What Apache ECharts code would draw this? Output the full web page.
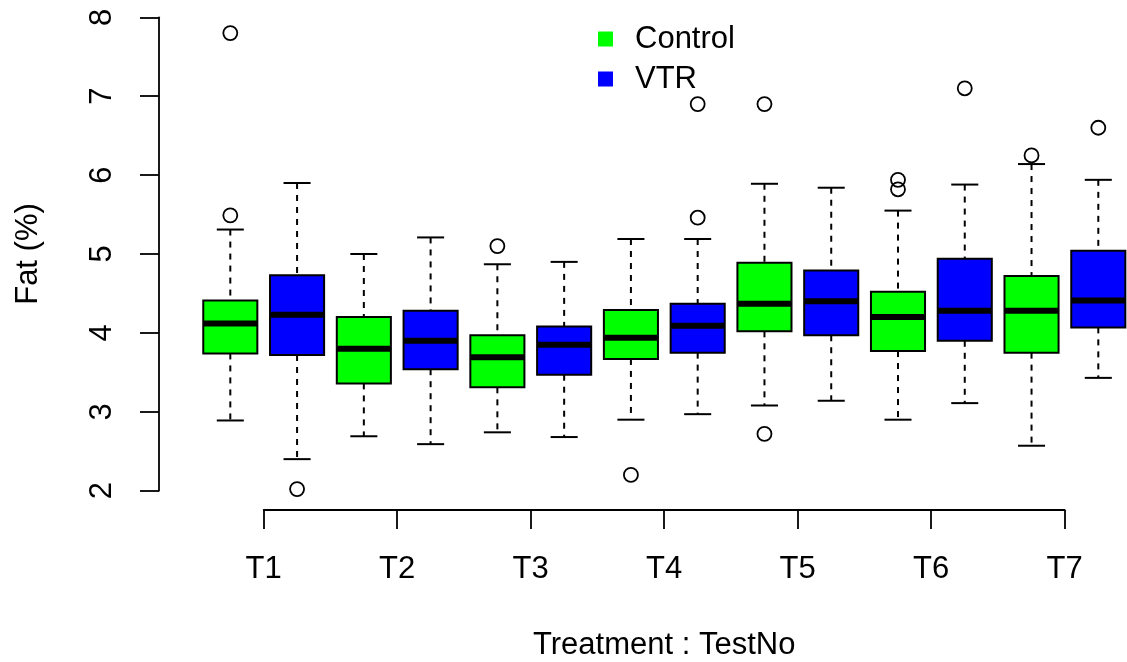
<!DOCTYPE html>
<html>
<head>
    <meta charset="utf-8">
    <title>Fat (%) by Treatment : TestNo</title>
    <script src="https://cdn.jsdelivr.net/npm/echarts/dist/echarts.min.js"></script>
    <style>
        body { margin: 0; background: #fff; }
        #chart1 { width: 1127px; height: 662px; }
    </style>
</head>
<body>
<div id="chart1"></div>

<script type="text/javascript">
    // test numbers on the x axis
    var categories = ['T1', 'T2', 'T3', 'T4', 'T5', 'T6', 'T7'];

    // one row per test: [lower whisker, Q1, median, Q3, upper whisker]
    var controlStats = [
        [2.89, 3.74, 4.12, 4.41, 5.31],
        [2.69, 3.36, 3.80, 4.20, 5.00],
        [2.74, 3.31, 3.69, 3.97, 4.87],
        [2.90, 3.67, 3.94, 4.29, 5.19],
        [3.08, 4.02, 4.37, 4.89, 5.89],
        [2.90, 3.77, 4.20, 4.52, 5.55],
        [2.57, 3.75, 4.28, 4.72, 6.14]
    ];
    var vtrStats = [
        [2.40, 3.72, 4.23, 4.73, 5.90],
        [2.59, 3.54, 3.90, 4.28, 5.21],
        [2.68, 3.47, 3.85, 4.08, 4.90],
        [2.97, 3.75, 4.09, 4.37, 5.19],
        [3.14, 3.97, 4.40, 4.79, 5.84],
        [3.11, 3.90, 4.28, 4.94, 5.88],
        [3.43, 4.07, 4.41, 5.04, 5.94]
    ];

    // outliers: [test index, value]
    var controlOutliers = [[0, 7.80], [0, 5.49], [2, 5.10], [3, 2.20], [4, 6.90], [4, 2.72], [5, 5.94], [5, 5.82], [6, 6.25]];
    var vtrOutliers = [[0, 2.02], [3, 6.90], [3, 5.46], [5, 7.10], [6, 6.60]];

    var yTicks = [2, 3, 4, 5, 6, 7, 8];

    var FONT = '"Liberation Sans", Arial, Helvetica, sans-serif';
    var FONT_SIZE = 31;
    var boxWidth = 0.81;

    // Control boxes sit at 1,3,5..; VTR at 2,4,6..
    function boxData(stats, shift) {
        return stats.map(function (s, i) { return [2 * i + shift].concat(s); });
    }
    function outlierData(list, shift) {
        return list.map(function (o) { return [2 * o[0] + shift, o[1]]; });
    }

    function renderBox(params, api) {
        var x = api.value(0);
        var lo = api.coord([x, api.value(1)]);
        var q1 = api.coord([x, api.value(2)]);
        var md = api.coord([x, api.value(3)]);
        var q3 = api.coord([x, api.value(4)]);
        var hi = api.coord([x, api.value(5)]);
        var w = api.size([boxWidth, 0])[0];
        var cx = md[0];
        var dashed = {stroke: '#000', lineWidth: 2, lineDash: [6, 6]};
        var solid = {stroke: '#000', lineWidth: 2};
        return {
            type: 'group',
            children: [
                {type: 'line', shape: {x1: cx, y1: hi[1], x2: cx, y2: q3[1]}, style: dashed},
                {type: 'line', shape: {x1: cx, y1: q1[1], x2: cx, y2: lo[1]}, style: dashed},
                {type: 'line', shape: {x1: cx - w / 4, y1: hi[1], x2: cx + w / 4, y2: hi[1]}, style: solid},
                {type: 'line', shape: {x1: cx - w / 4, y1: lo[1], x2: cx + w / 4, y2: lo[1]}, style: solid},
                {
                    type: 'rect',
                    shape: {x: cx - w / 2, y: q3[1], width: w, height: q1[1] - q3[1]},
                    style: {fill: api.visual('color'), stroke: '#000', lineWidth: 2}
                },
                {type: 'line', shape: {x1: cx - w / 2, y1: md[1], x2: cx + w / 2, y2: md[1]}, style: {stroke: '#000', lineWidth: 6}}
            ]
        };
    }

    var myChart = echarts.init(document.getElementById('chart1'));
    myChart.setOption({
        backgroundColor: '#fff',
        animation: false,
        textStyle: {fontFamily: FONT},
        legend: {
            orient: 'vertical',
            left: 598,
            top: 23.5,
            padding: 0,
            itemWidth: 15,
            itemHeight: 15,
            itemGap: 9,
            data: [
                {name: 'Control', icon: 'rect', itemStyle: {color: '#00ff00', borderWidth: 0}},
                {name: 'VTR', icon: 'rect', itemStyle: {color: '#0000ff', borderWidth: 0}}
            ],
            textStyle: {fontSize: FONT_SIZE, color: '#000', lineHeight: 30, padding: [0, 0, 0, 17], fontFamily: FONT}
        },
        grid: [
            {left: 230.3, right: 28.7, top: 17.3, bottom: 171.3, outerBoundsMode: 'none'},
            {left: 263.7, right: 62.3, top: 17.3, bottom: 152, outerBoundsMode: 'none'}
        ],
        xAxis: [
            {type: 'value', gridIndex: 0, min: 1, max: 14, show: false},
            {
                type: 'category',
                gridIndex: 1,
                data: categories,
                boundaryGap: false,
                axisLine: {lineStyle: {color: '#000', width: 1.8}},
                axisTick: {length: 19, lineStyle: {color: '#000', width: 1.8}},
                axisLabel: {fontSize: FONT_SIZE, color: '#000', margin: 44, fontFamily: FONT},
                name: 'Treatment : TestNo',
                nameLocation: 'middle',
                nameGap: 120,
                nameTextStyle: {fontSize: FONT_SIZE, color: '#000', fontFamily: FONT}
            }
        ],
        yAxis: [
            {
                type: 'value',
                gridIndex: 0,
                min: yTicks[0],
                max: yTicks[yTicks.length - 1],
                interval: 1,
                offset: 71.3,
                splitLine: {show: false},
                axisLine: {show: true, lineStyle: {color: '#000', width: 1.8}},
                axisTick: {show: true, length: 19, lineStyle: {color: '#000', width: 1.8}},
                axisLabel: {fontSize: FONT_SIZE, color: '#000', rotate: 90, margin: 41, fontFamily: FONT},
                name: 'Fat (%)',
                nameLocation: 'middle',
                nameRotate: 90,
                nameGap: 115,
                nameTextStyle: {fontSize: FONT_SIZE, color: '#000', fontFamily: FONT}
            },
            {type: 'value', gridIndex: 1, show: false}
        ],
        series: [
            {
                name: 'Control',
                type: 'custom',
                xAxisIndex: 0,
                yAxisIndex: 0,
                itemStyle: {color: '#00ff00'},
                renderItem: renderBox,
                encode: {x: 0, y: [1, 2, 3, 4, 5]},
                data: boxData(controlStats, 1)
            },
            {
                name: 'VTR',
                type: 'custom',
                xAxisIndex: 0,
                yAxisIndex: 0,
                itemStyle: {color: '#0000ff'},
                renderItem: renderBox,
                encode: {x: 0, y: [1, 2, 3, 4, 5]},
                data: boxData(vtrStats, 2)
            },
            {
                name: 'Control outliers',
                type: 'scatter',
                xAxisIndex: 0,
                yAxisIndex: 0,
                symbol: 'circle',
                symbolSize: 14,
                itemStyle: {color: 'rgba(0,0,0,0)', borderColor: '#000', borderWidth: 1.8, opacity: 1},
                data: outlierData(controlOutliers, 1)
            },
            {
                name: 'VTR outliers',
                type: 'scatter',
                xAxisIndex: 0,
                yAxisIndex: 0,
                symbol: 'circle',
                symbolSize: 14,
                itemStyle: {color: 'rgba(0,0,0,0)', borderColor: '#000', borderWidth: 1.8, opacity: 1},
                data: outlierData(vtrOutliers, 2)
            }
        ]
    });
</script>
</body>
</html>
